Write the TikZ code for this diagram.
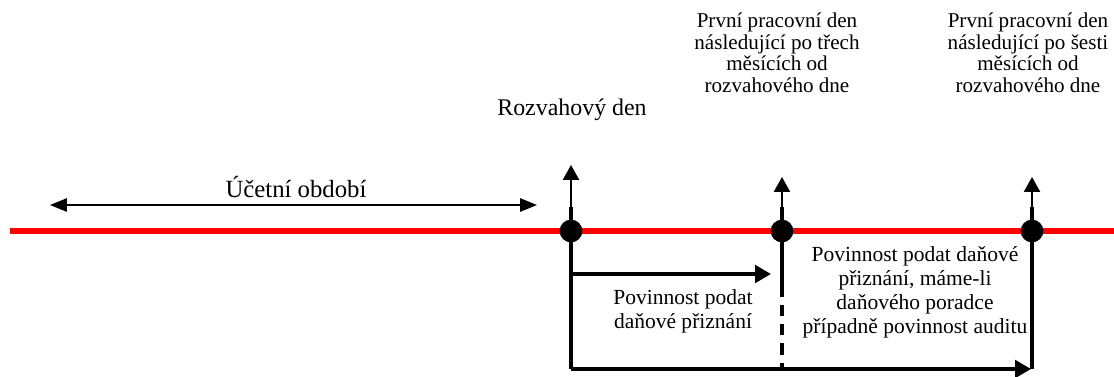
\documentclass[tikz,border=0pt]{standalone}
\usepackage{fontspec}
\setmainfont{Liberation Serif}
\usetikzlibrary{arrows.meta}

\begin{document}
\begin{tikzpicture}[x=0.025cm, y=-0.025cm,
  dot/.style={circle, fill=black, inner sep=0pt, minimum size=0.56cm},
  toplabel/.style={align=center, inner sep=0pt, anchor=north, font=\fontsize{15}{15.4}\selectfont},
  dutylabel/.style={align=center, inner sep=0pt, anchor=north, font=\fontsize{15.3}{17.2}\selectfont},
  bigtext/.style={inner sep=0pt, anchor=base, font=\fontsize{17}{20}\selectfont},
  uparrow/.style={-{Triangle[length=0.37cm, width=0.4cm]}, line width=1.3pt},
  durarrow/.style={-{Triangle[length=0.4cm, width=0.44cm]}, line width=2.4pt},
  thickline/.style={line width=2.8pt}]

\useasboundingbox (0,0) rectangle (1114,376);

% Red time axis
\coordinate (L) at (10,231);
\coordinate (R) at (1114,231);
\draw[red, line width=4.3pt] (L) -- (R);

% Dots on the axis
\node[dot] (D1) at (571,231) {};
\node[dot] (D2) at (782,231) {};
\node[dot] (D3) at (1032,231) {};

% Up arrows above the dots
\coordinate (T1) at (571,165);
\coordinate (T2) at (782,177);
\coordinate (T3) at (1032,177);
\draw[uparrow] (D1.center) -- (T1);
\draw[uparrow] (D2.center) -- (T2);
\draw[uparrow] (D3.center) -- (T3);
\draw[thickline] (D1.center) -- (571,207);
\draw[thickline] (D2.center) -- (782,207);
\draw[thickline] (D3.center) -- (1032,207);

% Vertical lines below the dots
\coordinate (B1) at (571,369);
\coordinate (B2) at (782,369);
\coordinate (B3) at (1032,369);
\coordinate (S2) at (782,297);
\draw[thickline] (D1.center) -- (B1);
\draw[thickline] (D2.center) -- (S2);
\draw[thickline, dash pattern=on 0.28cm off 0.2cm] (782,305) -- (B2);
\draw[thickline] (D3.center) -- (B3);

% Duty arrows
\coordinate (M1) at (571,274);
\coordinate (M2) at (771,274);
\draw[durarrow] (M1) -- (M2);
\draw[durarrow] (B1) -- (1031,369);
\node[dot] at (D1) {};
\node[dot] at (D2) {};
\node[dot] at (D3) {};

% Accounting period
\coordinate (A1) at (50,205);
\coordinate (A2) at (537,205);
\draw[{Triangle[length=0.42cm, width=0.33cm]}-{Triangle[length=0.42cm, width=0.33cm]}, line width=1.2pt] (A1) -- (A2);
\node[bigtext, font=\fontsize{17.6}{20}\selectfont] (UO) at (296,197) {Účetní období};

% Labels above
\node[bigtext] (RD) at (572,115) {Rozvahový den};
\node[toplabel] (P3) at (777,12.6) {První pracovní den\\následující po třech\\měsících od\\rozvahového dne};
\node[toplabel] (P6) at (1028,12.6) {První pracovní den\\následující po šesti\\měsících od\\rozvahového dne};

% Labels below
\node[dutylabel] (DP) at (683,289) {Povinnost podat\\daňové přiznání};
\node[dutylabel] (DA) at (915,246) {Povinnost podat daňové\\přiznání, máme-li\\daňového poradce\\případně povinnost auditu};

\end{tikzpicture}
\end{document}
